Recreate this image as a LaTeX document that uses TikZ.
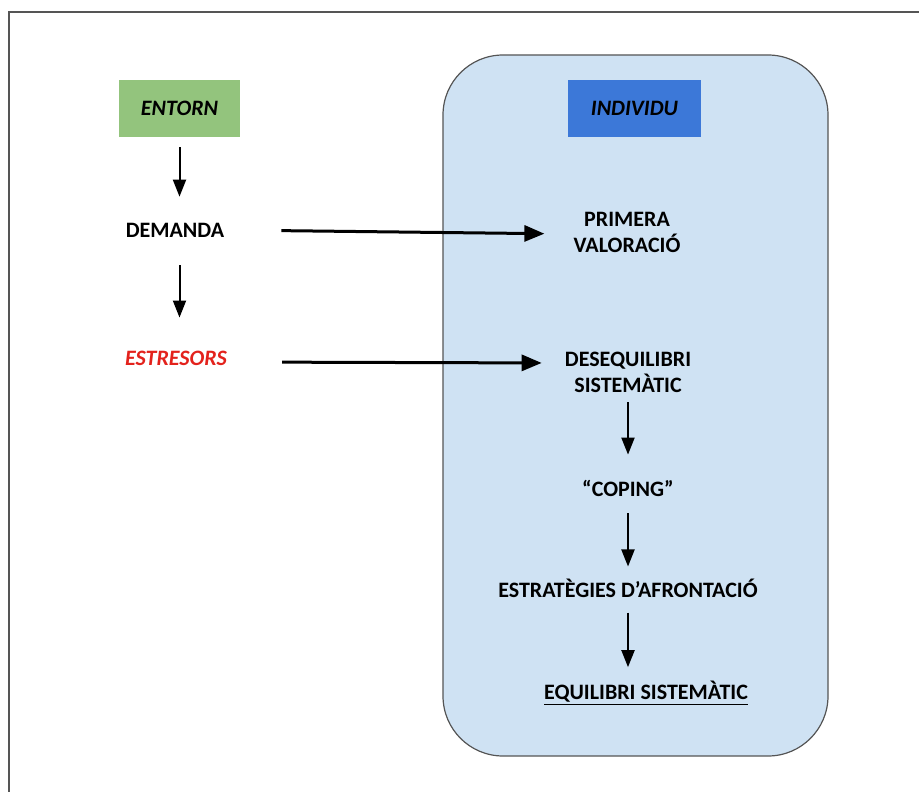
\documentclass[tikz,border=0pt]{standalone}
\usepackage{fontspec}
\setmainfont{Carlito}
\usetikzlibrary{arrows.meta}
\definecolor{entorngreen}{HTML}{93C47D}
\definecolor{individublue}{HTML}{3C78D8}
\definecolor{panelblue}{HTML}{CFE2F3}
\definecolor{stressred}{HTML}{E3221C}
\definecolor{framegray}{HTML}{555555}
\tikzset{
  label/.style={font=\bfseries\fontsize{22}{26}\selectfont, align=center, inner sep=2pt},
  headbox/.style={label, font=\bfseries\itshape\fontsize{22}{26}\selectfont, minimum width=121pt, minimum height=57pt},
  down/.style={-{Triangle[length=17pt,width=13pt]}, line width=2pt},
  across/.style={-{Triangle[length=20pt,width=16pt]}, line width=3pt}
}
\begin{document}
\begin{tikzpicture}[x=1pt,y=-1pt]
        \useasboundingbox (0,0) rectangle (919,792);
        \def\corner{60pt}
        % frame and the individu panel
        \draw[framegray, line width=1.5pt] (9,792) -- (9,12) -- (919,12);
        \draw[framegray, fill=panelblue, line width=1.2pt, rounded corners=\corner] (443,55) rectangle (828,756);
        % left column
        \node[headbox, fill=entorngreen] (entorn) at (179.5,108.5) {ENTORN};
        \node[label] (demanda) at (175,230) {DEMANDA};
        \node[label, text=stressred, font=\bfseries\itshape\fontsize{22}{26}\selectfont] (estresors) at (176,358) {ESTRESORS};
        % right column
        \node[headbox, fill=individublue, minimum width=133pt] (individu) at (634.5,108.5) {INDIVIDU};
        \node[label] (valoracio) at (627,232) {PRIMERA\\VALORACIÓ};
        \node[label] (desequilibri) at (628,372) {DESEQUILIBRI\\SISTEMÀTIC};
        \node[label] (coping) at (628,488) {“COPING”};
        \node[label] (estrategies) at (628,588) {ESTRATÈGIES D’AFRONTACIÓ};
        \node[label] (equilibri) at (646,693) {\underline{EQUILIBRI SISTEMÀTIC}};
        % arrows
        \draw[down, shorten <=10pt, shorten >=24pt] (entorn.south) -- (entorn.south |- demanda.north);
        \draw[down, shorten <=26pt, shorten >=31pt] (entorn.south |- demanda.south) -- (entorn.south |- estresors.north);
        \draw[across, shorten <=55pt, shorten >=27pt] (demanda.east) -- ([yshift=-2pt]valoracio.west);
        \draw[across, shorten <=53pt, shorten >=21pt] ([yshift=-4pt]estresors.east) -- ([yshift=9pt]desequilibri.west);
        \draw[down, shorten <=8pt, shorten >=23pt] (desequilibri.south) -- (coping.north);
        \draw[down, shorten <=15pt, shorten >=10pt] (coping.south) -- (estrategies.north);
        \draw[down, shorten <=13pt, shorten >=12pt] (estrategies.south) -- (estrategies.south |- equilibri.north);
\end{tikzpicture}
\end{document}
